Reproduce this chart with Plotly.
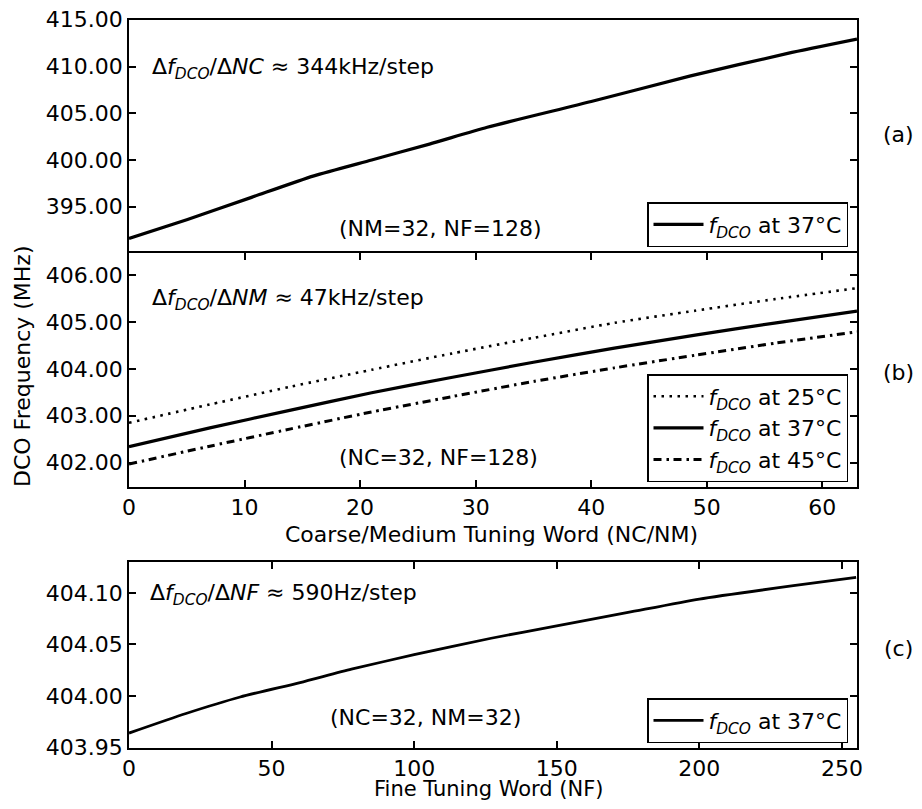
import plotly.graph_objects as go

# ---------------- data ----------------
# (a) coarse tuning word sweep, NM=32, NF=128
nc_words = [0, 5, 10.6, 16, 21, 26, 31, 40, 48.6, 57, 63]
f_nc_37 = [391.6, 393.6, 396.0, 398.3, 400.0, 401.7, 403.5, 406.25, 409.0, 411.4, 412.93]

# (b) medium tuning word sweep, NC=32, NF=128
nm_words = [0, 7, 14, 21, 28, 35, 42, 49, 56, 63]
f_nm_25 = [402.85, 403.24, 403.62, 403.98, 404.33, 404.66, 404.98, 405.24, 405.49, 405.72]
f_nm_37 = [402.34, 402.74, 403.12, 403.49, 403.82, 404.14, 404.44, 404.72, 404.98, 405.23]
f_nm_45 = [401.97, 402.35, 402.72, 403.08, 403.41, 403.73, 404.02, 404.29, 404.55, 404.79]

# (c) fine tuning word sweep, NC=32, NM=32
nf_words = [0, 20, 39, 60, 78, 100, 127, 150, 175, 200, 233, 255]
f_nf_37 = [403.964, 403.983, 403.999, 404.013, 404.026, 404.040, 404.056,
           404.068, 404.081, 404.094, 404.107, 404.115]

ticks_a = [395, 400, 405, 410, 415]
ticks_b = [402, 403, 404, 405, 406]
ticks_c = [403.95, 404.00, 404.05, 404.10]
xticks_b = [0, 10, 20, 30, 40, 50, 60]
xticks_c = [0, 50, 100, 150, 200, 250]

# ---------------- figure ----------------
OFF = 8                      # default page (body) margin
W, H = 922 - 2 * OFF, 809 - 2 * OFF
FONT = "DejaVu Sans, Liberation Sans, Arial, sans-serif"
FS = 22
LFS = 22

def px_x(p):
    return (p - OFF) / W

def px_y(p):
    return 1 - (p - OFF) / H

fdco = "<i>f</i><sub><i>DCO</i></sub>"
DOT = "2.5px,5.5px"
DASHDOT = "8px,5px,2.5px,4.5px"

fig = go.Figure()
fig.add_trace(go.Scatter(x=nc_words, y=f_nc_37, mode="lines", xaxis="x", yaxis="y",
                         line=dict(color="black", width=3.2, shape="spline", smoothing=0.6),
                         name=fdco + " at 37°C", legend="legend"))
fig.add_trace(go.Scatter(x=nm_words, y=f_nm_25, mode="lines", xaxis="x2", yaxis="y2",
                         line=dict(color="black", width=2.6, dash=DOT, shape="spline",
                                   smoothing=0.6),
                         name=fdco + " at 25°C", legend="legend2"))
fig.add_trace(go.Scatter(x=nm_words, y=f_nm_37, mode="lines", xaxis="x2", yaxis="y2",
                         line=dict(color="black", width=3.2, shape="spline", smoothing=0.6),
                         name=fdco + " at 37°C", legend="legend2"))
fig.add_trace(go.Scatter(x=nm_words, y=f_nm_45, mode="lines", xaxis="x2", yaxis="y2",
                         line=dict(color="black", width=3, dash=DASHDOT, shape="spline",
                                   smoothing=0.6),
                         name=fdco + " at 45°C", legend="legend2"))
fig.add_trace(go.Scatter(x=nf_words, y=f_nf_37, mode="lines", xaxis="x3", yaxis="y3",
                         line=dict(color="black", width=2.8, shape="spline", smoothing=0.6),
                         name=fdco + " at 37°C", legend="legend3"))

xdom = [px_x(129), px_x(857)]
dom_a = [px_y(253), px_y(19.5)]
dom_b = [px_y(487), px_y(253)]
dom_c = [px_y(748), px_y(562)]

axis_common = dict(showline=True, linecolor="black", linewidth=1.6, mirror="ticks",
                   ticks="inside", ticklen=7, tickwidth=1.5, tickcolor="black",
                   showgrid=False, zeroline=False, automargin=False,
                   ticklabeloverflow="allow",
                   tickfont=dict(family=FONT, size=FS, color="black"))
top_x = dict(axis_common)
top_x.update(side="top", mirror=False, ticks="", showticklabels=False)

fig.update_layout(
    template="none",
    width=W, height=H,
    margin=dict(l=0, r=0, t=0, b=0, pad=0),
    paper_bgcolor="white", plot_bgcolor="white",
    font=dict(family=FONT, size=FS, color="black"),
    xaxis=dict(domain=xdom, anchor="y", range=[0, 63], tickvals=xticks_b, **top_x),
    yaxis=dict(domain=dom_a, anchor="x", range=[390.05, 415.03], tickvals=ticks_a,
               tickformat=".2f", **axis_common),
    xaxis2=dict(domain=xdom, anchor="y2", range=[0, 63], tickvals=xticks_b,
                **axis_common),
    yaxis2=dict(domain=dom_b, anchor="x2", range=[401.48, 406.47], tickvals=ticks_b,
                tickformat=".2f", **axis_common),
    xaxis3=dict(domain=xdom, anchor="y3", range=[0, 255.3], tickvals=xticks_c,
                **axis_common),
    yaxis3=dict(domain=dom_c, anchor="x3", range=[403.9495, 404.130], tickvals=ticks_c,
                tickformat=".2f", **axis_common),
    showlegend=True,
)

leg_common = dict(bordercolor="black", borderwidth=1.5, bgcolor="white",
                  font=dict(family=FONT, size=LFS, color="black"),
                  xanchor="right", yanchor="top", itemwidth=50,
                  tracegroupgap=0)
fig.update_layout(
    legend=dict(x=px_x(848), y=px_y(202), **leg_common),
    legend2=dict(x=px_x(848), y=px_y(374), **leg_common),
    legend3=dict(x=px_x(848), y=px_y(698), **leg_common),
)

ann = []
def add_text(text, x, y, xanchor="left", yanchor="middle", angle=0, size=FS):
    ann.append(dict(text=text, x=px_x(x), y=px_y(y), xref="paper", yref="paper",
                    xanchor=xanchor, yanchor=yanchor, showarrow=False, textangle=angle,
                    font=dict(family=FONT, size=size, color="black")))

add_text("Δ" + fdco + "/Δ<i>NC</i> ≈ 344kHz/step", 150, 68)
add_text("(NM=32, NF=128)", 337, 228)
add_text("(a)", 898, 135, xanchor="center")
add_text("Δ" + fdco + "/Δ<i>NM</i> ≈ 47kHz/step", 150, 299)
add_text("(NC=32, NF=128)", 337, 457)
add_text("(b)", 898, 372, xanchor="center")
add_text("Δ" + fdco + "/Δ<i>NF</i> ≈ 590Hz/step", 148, 594)
add_text("(NC=32, NM=32)", 328, 717)
add_text("(c)", 898, 648, xanchor="center")
add_text("Coarse/Medium Tuning Word (NC/NM)", 492, 534, xanchor="center")
add_text("Fine Tuning Word (NF)", 489, 789, xanchor="center", size=21)
add_text("DCO Frequency (MHz)", 22, 366, xanchor="center", angle=-90)
fig.update_layout(annotations=ann)

fig.write_html("out.html")
